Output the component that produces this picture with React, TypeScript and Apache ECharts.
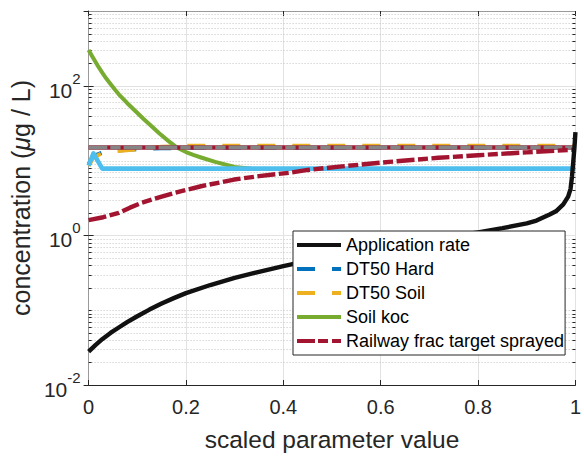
import React, { useEffect, useRef } from "react";
import * as echarts from "echarts";

// Scaled parameter (x) and resulting concentration (µg/L) for each input parameter
const appRateX = [0, 0.014, 0.028, 0.045, 0.062, 0.08, 0.1, 0.125, 0.15, 0.175, 0.2, 0.25, 0.3, 0.35, 0.4, 0.45, 0.5, 0.55, 0.6, 0.65, 0.7, 0.75, 0.8, 0.85, 0.9, 0.92, 0.947, 0.96, 0.975, 0.985, 0.99, 0.993, 0.996, 0.998, 1];
const appRateY = [0.028, 0.0342, 0.041, 0.0497, 0.0587, 0.0697, 0.083, 0.102, 0.123, 0.145, 0.169, 0.217, 0.27, 0.326, 0.389, 0.457, 0.53, 0.6, 0.68, 0.77, 0.87, 0.98, 1.1, 1.25, 1.45, 1.58, 1.9, 2.1, 2.6, 3.3, 4.2, 6.2, 10.5, 15, 24];

const dt50HardX = [0, 0.01, 0.03, 0.06, 0.1, 0.15, 0.2, 1];
const dt50HardY = [9, 11.5, 13, 13.6, 14.2, 14.6, 14.8, 14.8];

const dt50SoilX = [0, 0.01, 0.03, 0.06, 0.1, 0.15, 0.2, 1];
const dt50SoilY = [8.5, 11, 12.8, 13.4, 14.2, 15.3, 15.8, 15.8];

const soilKocX = [0, 0.007, 0.014, 0.021, 0.028, 0.036, 0.045, 0.054, 0.062, 0.07, 0.08, 0.096, 0.113, 0.13, 0.145, 0.163, 0.181, 0.2, 0.215, 0.231, 0.26, 0.3, 0.335];
const soilKocY = [300, 250, 210, 176, 150, 126, 106, 89, 77, 68, 58, 46, 36, 28.5, 23.2, 18.5, 15, 13.0, 11.9, 11.0, 9.6, 8.2, 7.8];

const railwayX = [0, 0.03, 0.062, 0.085, 0.109, 0.15, 0.177, 0.231, 0.299, 0.35, 0.414, 0.45, 0.515, 0.617, 0.718, 0.8, 0.9, 1];
const railwayY = [1.6, 1.75, 2.0, 2.35, 2.73, 3.3, 3.71, 4.54, 5.58, 6.2, 6.9, 7.5, 8.3, 9.6, 10.9, 11.8, 12.9, 14.0];

const kocEffX = [0, 0.01, 0.028, 1];
const kocEffY = [8.6, 12.5, 7.8, 7.8];

const baseX = [0, 1];
const baseY = [15, 15];

const xTicks = [0, 0.2, 0.4, 0.6, 0.8, 1];

// dotted minor grid rows on the log axis
const minorDecades = [-2, -1, 0, 1, 2];
const minorSteps = [2, 3, 4, 5, 6, 7, 8, 9];

const FONT = "'Liberation Sans', Arial, Helvetica, sans-serif";

// legend glyphs: 44 x 4 bars, dashed where the series is dashed
const ICON_SOLID = "path://M0 0H44V4H0Z";
const ICON_DASH = "path://M0 0H18V4H0Z M35 0H44V4H35Z";
const ICON_DASHDOT = "path://M0 0H18V4H0Z M21 0H31V4H21Z M35 0H44V4H35Z";

const pairs = (xs: number[], ys: number[]) => xs.map((x, i) => [x, ys[i]]);

export default function App() {
  const ref = useRef<HTMLDivElement>(null);

  useEffect(() => {
    if (!ref.current) return;
    const chart = echarts.init(ref.current, undefined, { renderer: "svg" });

    const minorVals: number[] = [];
    minorDecades.forEach((d) => {
      minorSteps.forEach((k) => minorVals.push(k * Math.pow(10, d)));
    });
    minorVals.push(0.1, 10);

    const lineSeries = (
      name: string,
      xs: number[],
      ys: number[],
      color: string,
      width: number,
      type: any = "solid"
    ) => ({
      name,
      type: "line",
      data: pairs(xs, ys),
      showSymbol: false,
      symbol: "none",
      silent: true,
      lineStyle: { color, width, type, cap: "butt", join: "round" },
      itemStyle: { color },
    });

    chart.setOption({
      animation: false,
      backgroundColor: "#ffffff",
      grid: { left: 86, right: 5, top: 11, bottom: 72 },
      xAxis: [
        {
          type: "value",
          min: 0,
          max: 1,
          interval: 0.2,
          position: "bottom",
          name: "scaled parameter value",
          nameLocation: "middle",
          nameGap: 42,
          nameTextStyle: { fontSize: 24.5, fontFamily: FONT, color: "#262626" },
          axisLine: { show: true, lineStyle: { color: "#262626", width: 1 } },
          axisTick: { show: true, inside: true, length: 5, lineStyle: { color: "#262626" } },
          axisLabel: {
            fontSize: 20,
            fontFamily: FONT,
            color: "#262626",
            margin: 12,
            formatter: (v: number) => (xTicks.includes(v) ? String(v) : ""),
          },
          splitLine: { show: true, lineStyle: { color: "#e2e2e2", width: 1 } },
        },
        {
          type: "value",
          min: 0,
          max: 1,
          interval: 0.2,
          position: "top",
          axisLine: { show: true, lineStyle: { color: "#9a9a9a", width: 1 } },
          axisTick: { show: true, inside: true, length: 5, lineStyle: { color: "#262626" } },
          axisLabel: { show: false },
          splitLine: { show: false },
        },
      ],
      yAxis: [
        {
          type: "log",
          logBase: 10,
          min: 0.01,
          max: 1000,
          interval: 2,
          position: "left",
          name: "{n|concentration (}{i|μ}{n|g / L)}",
          nameLocation: "middle",
          nameGap: 50,
          nameTextStyle: {
            rich: {
              n: { fontSize: 25, fontFamily: FONT, color: "#262626" },
              i: { fontSize: 25, fontFamily: FONT, fontStyle: "italic", color: "#262626" },
            },
          },
          axisLine: { show: true, lineStyle: { color: "#404040", width: 1 } },
          axisTick: { show: true, inside: true, length: 5, lineStyle: { color: "#262626" } },
          axisLabel: {
            margin: 8,
            showMaxLabel: false,
            formatter: (v: number) => {
              const e = Math.round(Math.log10(v));
              if (e % 2 !== 0) return "";
              return `{b|10}{s|${e}}`;
            },
            rich: {
              b: { fontSize: 21, fontFamily: FONT, color: "#262626", lineHeight: 30, verticalAlign: "bottom" },
              s: { fontSize: 15, fontFamily: FONT, color: "#262626", lineHeight: 30, verticalAlign: "top" },
            },
          },
          splitLine: { show: true, lineStyle: { color: "#e2e2e2", width: 1 } },
        },
        {
          type: "log",
          logBase: 10,
          min: 0.01,
          max: 1000,
          interval: 2,
          position: "right",
          axisLine: { show: true, lineStyle: { color: "#9a9a9a", width: 1 } },
          axisTick: { show: true, inside: true, length: 5, lineStyle: { color: "#262626" } },
          axisLabel: { show: false },
          splitLine: { show: false },
        },
      ],
      legend: {
        orient: "vertical",
        left: 293,
        top: 231,
        padding: [4, 1, 4, 4],
        itemGap: 4,
        itemWidth: 44,
        itemHeight: 4,
        backgroundColor: "#ffffff",
        borderColor: "#262626",
        borderWidth: 1,
        borderRadius: 0,
        textStyle: { fontSize: 18, fontFamily: FONT, color: "#000000", lineHeight: 20 },
        selectedMode: false,
        data: [
          { name: "Application rate", icon: ICON_SOLID },
          { name: "DT50 Hard", icon: ICON_DASH },
          { name: "DT50 Soil", icon: ICON_DASH },
          { name: "Soil koc", icon: ICON_SOLID },
          { name: "Railway frac target sprayed", icon: ICON_DASHDOT },
        ],
      },
      series: [
        {
          type: "custom",
          silent: true,
          z: 1,
          clip: false,
          data: minorVals.map((v) => [0, v]),
          encode: { x: 0, y: 1 },
          renderItem: (_p: any, api: any) => {
            const v = api.value(1);
            const a = api.coord([0, v]);
            const b = api.coord([1, v]);
            const y = Math.round(a[1]) + 0.5;
            return {
              type: "group",
              children: [
                {
                  type: "line",
                  shape: { x1: a[0], y1: y, x2: b[0], y2: y },
                  style: { stroke: "#c4c4c4", lineWidth: 1, lineDash: [1, 2] },
                },
                {
                  type: "line",
                  shape: { x1: a[0], y1: y, x2: a[0] + 3, y2: y },
                  style: { stroke: "#262626", lineWidth: 1 },
                },
                {
                  type: "line",
                  shape: { x1: b[0] - 3, y1: y, x2: b[0], y2: y },
                  style: { stroke: "#262626", lineWidth: 1 },
                },
              ],
            };
          },
        },
        lineSeries("DT50 Hard", dt50HardX, dt50HardY, "#0072BD", 4, [18, 17]),
        lineSeries("DT50 Soil", dt50SoilX, dt50SoilY, "#EDB120", 4, [18, 17]),
        lineSeries("Soil koc", soilKocX, soilKocY, "#77AC30", 4),
        lineSeries("koc effective", kocEffX, kocEffY, "#4DBEEE", 4.6),
        lineSeries("base red", baseX, baseY, "#A2142F", 4.4),
        lineSeries("base", baseX, baseY, "#858585", 4, [18.7, 3, 10.3, 3]),
        lineSeries("Railway frac target sprayed", railwayX, railwayY, "#A2142F", 4.4, [18, 3.5, 10, 3.5]),
        lineSeries("Application rate", appRateX, appRateY, "#111111", 4.4),
      ],
    });

    return () => chart.dispose();
  }, []);

  return (
    <div
      ref={ref}
      style={{ position: "fixed", left: 0, top: 0, width: 584, height: 457, background: "#fff" }}
    />
  );
}
